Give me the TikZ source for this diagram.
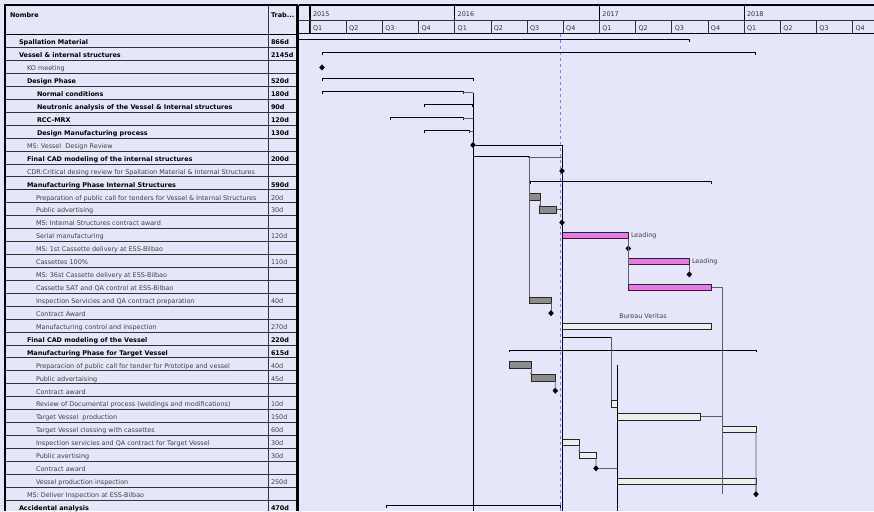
\documentclass[tikz,border=0pt]{standalone}
\usepackage{fontspec}
\setmainfont{DejaVu Sans}
\usetikzlibrary{shapes.geometric,arrows.meta}
\definecolor{bg}{RGB}{230,230,250}
\definecolor{txtgray}{RGB}{64,64,64}
\definecolor{bargray}{RGB}{140,140,140}
\definecolor{barpink}{RGB}{236,118,232}
\definecolor{barlight}{RGB}{238,238,238}
\definecolor{todayblue}{RGB}{125,125,250}
\definecolor{conngray}{RGB}{95,95,95}
\newcommand\RY[1]{(41.6+(#1-1)*12.93)}
\newcommand\TB[1]{(44.9+(#1-1)*12.93)}
\newcommand\RL[1]{(34.5+(#1)*12.93)}
\newcommand\sumbar[4]{%
  \coordinate (#1s) at (#3,{\RY{#2}-2});
  \coordinate (#1e) at (#4,{\RY{#2}-2});
  \draw[sumline] ([yshift=-2.5pt]#1s) -- (#1s) -- (#1e) -- ([yshift=-2.5pt]#1e);}
\newcommand\gbarnode[5]{%
  \node[gbar,fill=#5,minimum width={(#4-#3)*1pt}] (#1) at (#3,{\RY{#2}}) {};}
\begin{document}
\begin{tikzpicture}[x=1pt,y=-1pt,
  every node/.style={inner sep=0pt,outer sep=0pt,font=\fontsize{6.45}{7.5}\selectfont},
  tn/.style={anchor=base west,text=txtgray},
  tb/.style={anchor=base west,text=black,font=\fontsize{6.45}{7.5}\selectfont\bfseries},
  tabline/.style={draw=black!80,line width=0.6pt},
  tabframe/.style={draw=black,line width=1.1pt},
  sumline/.style={draw=black,line width=0.8pt},
  gbar/.style={draw=black!85,line width=0.55pt,minimum height=6.4pt,anchor=west},
  ms/.style={diamond,fill=black,draw=black,line width=0.3pt,minimum width=5pt,minimum height=5.5pt},
  conn/.style={draw=conngray,line width=0.7pt},
  connk/.style={draw=black,line width=0.8pt},
  tip/.style={-{Stealth[length=2pt,width=2.2pt]}},
  barlbl/.style={text=txtgray}
]
\fill[bg] (0,0) rectangle (874,511);
\useasboundingbox (0,0) rectangle (874,511);
\coordinate (bottom) at (0,511);

% ---------------- table ----------------
\foreach \k in {1,...,36} \draw[tabline] (5,{\RL{\k}}) -- (297,{\RL{\k}});
\draw[tabline] (268,5) -- (268,511);
\draw[tabframe] (5,511) -- (5,5) -- (297,5) -- (297,511);
\draw[tabframe] (5,34.5) -- (297,34.5);
\node[tb] (hname) at (10,18) {Nombre};
\node[tb] (hwork) at (271,18) {Trab...};

\node[tb] (t1) at (19,{\TB{1}}) {Spallation Material};
\node[tb] (t2) at (19,{\TB{2}}) {Vessel \& internal structures};
\node[tn] (t3) at (27,{\TB{3}}) {KO meeting};
\node[tb] (t4) at (27,{\TB{4}}) {Design Phase};
\node[tb] (t5) at (37,{\TB{5}}) {Normal conditions};
\node[tb] (t6) at (37,{\TB{6}}) {Neutronic analysis of the Vessel \& Internal structures};
\node[tb] (t7) at (37,{\TB{7}}) {RCC-MRX};
\node[tb] (t8) at (37,{\TB{8}}) {Design Manufacturing process};
\node[tn] (t9) at (27,{\TB{9}}) {MS: Vessel\ \ Design Review};
\node[tb] (t10) at (27,{\TB{10}}) {Final CAD modeling of the internal structures};
\node[tn] (t11) at (27,{\TB{11}}) {CDR:Critical desing review for Spallation Material \& Internal Structures};
\node[tb] (t12) at (27,{\TB{12}}) {Manufacturing Phase Internal Structures};
\node[tn] (t13) at (36,{\TB{13}}) {Preparation of public call for tenders for Vessel \& Internal Structures};
\node[tn] (t14) at (36,{\TB{14}}) {Public advertising};
\node[tn] (t15) at (36,{\TB{15}}) {MS: Internal Structures contract award};
\node[tn] (t16) at (36,{\TB{16}}) {Serial manufacturing};
\node[tn] (t17) at (36,{\TB{17}}) {MS: 1st Cassette delivery at ESS-Bilbao};
\node[tn] (t18) at (36,{\TB{18}}) {Cassettes 100\%};
\node[tn] (t19) at (36,{\TB{19}}) {MS: 36st Cassette delivery at ESS-Bilbao};
\node[tn] (t20) at (36,{\TB{20}}) {Cassette SAT and QA control at ESS-Bilbao};
\node[tn] (t21) at (36,{\TB{21}}) {Inspection Servicies and QA contract preparation};
\node[tn] (t22) at (36,{\TB{22}}) {Contract Award};
\node[tn] (t23) at (36,{\TB{23}}) {Manufacturing control and inspection};
\node[tb] (t24) at (27,{\TB{24}}) {Final CAD modeling of the Vessel};
\node[tb] (t25) at (27,{\TB{25}}) {Manufacturing Phase for Target Vessel};
\node[tn] (t26) at (36,{\TB{26}}) {Preparacion of public call for tender for Prototipe and vessel};
\node[tn] (t27) at (36,{\TB{27}}) {Public advertaising};
\node[tn] (t28) at (36,{\TB{28}}) {Contract award};
\node[tn] (t29) at (36,{\TB{29}}) {Review of Documental process (weldings and modifications)};
\node[tn] (t30) at (36,{\TB{30}}) {Target Vessel\ \ production};
\node[tn] (t31) at (36,{\TB{31}}) {Target Vessel clossing with cassettes};
\node[tn] (t32) at (36,{\TB{32}}) {Inspection servicies and QA contract for Target Vessel};
\node[tn] (t33) at (36,{\TB{33}}) {Public avertising};
\node[tn] (t34) at (36,{\TB{34}}) {Contract award};
\node[tn] (t35) at (36,{\TB{35}}) {Vessel production inspection};
\node[tn] (t36) at (27,{\TB{36}}) {MS: Deliver Inspection at ESS-Bilbao};
\node[tb] (t37) at (19,{\TB{37}}) {Accidental analysis};

\node[tb] (w1) at (271,{\TB{1}}) {866d};
\node[tb] (w2) at (271,{\TB{2}}) {2145d};
\node[tb] (w4) at (271,{\TB{4}}) {520d};
\node[tb] (w5) at (271,{\TB{5}}) {180d};
\node[tb] (w6) at (271,{\TB{6}}) {90d};
\node[tb] (w7) at (271,{\TB{7}}) {120d};
\node[tb] (w8) at (271,{\TB{8}}) {130d};
\node[tb] (w10) at (271,{\TB{10}}) {200d};
\node[tb] (w12) at (271,{\TB{12}}) {590d};
\node[tn] (w13) at (271,{\TB{13}}) {20d};
\node[tn] (w14) at (271,{\TB{14}}) {30d};
\node[tn] (w16) at (271,{\TB{16}}) {120d};
\node[tn] (w18) at (271,{\TB{18}}) {110d};
\node[tn] (w21) at (271,{\TB{21}}) {40d};
\node[tn] (w23) at (271,{\TB{23}}) {270d};
\node[tb] (w24) at (271,{\TB{24}}) {220d};
\node[tb] (w25) at (271,{\TB{25}}) {615d};
\node[tn] (w26) at (271,{\TB{26}}) {40d};
\node[tn] (w27) at (271,{\TB{27}}) {45d};
\node[tn] (w29) at (271,{\TB{29}}) {10d};
\node[tn] (w30) at (271,{\TB{30}}) {150d};
\node[tn] (w31) at (271,{\TB{31}}) {60d};
\node[tn] (w32) at (271,{\TB{32}}) {30d};
\node[tn] (w33) at (271,{\TB{33}}) {30d};
\node[tn] (w35) at (271,{\TB{35}}) {250d};
\node[tb] (w37) at (271,{\TB{37}}) {470d};

% ---------------- chart header ----------------
\draw[tabline] (298.5,20) -- (874,20);
\draw[tabline] (310,5) -- (310,33.5);
\foreach \yr [count=\i from 0] in {2015,2016,2017,2018} {
  \pgfmathsetmacro{\xy}{310+144.7*\i}
  \draw[tabframe] (\xy,5) -- (\xy,33.5);
  \node[tn,text=black!80] (yr\i) at ({\xy+3},16.3) {\yr};
  \foreach \q in {1,2,3,4} {
    \pgfmathsetmacro{\xq}{\xy+36.175*(\q-1)}
    \draw[tabline] (\xq,20) -- (\xq,33.5);
    \node[tn,text=black!80] (q\i\q) at ({\xq+3},30.6) {Q\q};
  }
}
\draw[tabframe] (298.5,5) -- (874,5);
\draw[tabframe] (298.5,33.5) -- (874,33.5);
\draw[tabframe] (298.5,5) -- (298.5,511);

% today line
\draw[todayblue,dash pattern=on 3pt off 3pt,line width=0.7pt] (560.3,34) -- (560.3,511);

% ---------------- summary lines ----------------
\coordinate (s1s) at (298.5,{\RY{1}-2});
\coordinate (s1e) at (689,{\RY{1}-2});
\draw[sumline] (s1s) -- (s1e) -- ([yshift=-2.5pt]s1e);
\sumbar{s2}{2}{322.3}{755}
\sumbar{s4}{4}{322}{473.3}
\sumbar{s5}{5}{322}{463}
\sumbar{s6}{6}{424}{472.7}
\sumbar{s7}{7}{390.7}{463}
\sumbar{s8}{8}{424}{469}
\sumbar{s10}{10}{473.7}{528.3}
\sumbar{s12}{12}{530}{711}
\sumbar{s24}{24}{562}{611.7}
\sumbar{s25}{25}{509.3}{756}
\sumbar{s37}{37}{386}{560}

% ---------------- bars ----------------
\gbarnode{b13}{13}{529}{540}{bargray}
\gbarnode{b14}{14}{539.7}{556.7}{bargray}
\gbarnode{b16}{16}{562}{628.3}{barpink}
\gbarnode{b18}{18}{628.3}{689.3}{barpink}
\gbarnode{b20}{20}{628.3}{711.7}{barpink}
\gbarnode{b21}{21}{529}{551}{bargray}
\gbarnode{b23}{23}{562}{711.7}{barlight}
\gbarnode{b26}{26}{509.3}{531}{bargray}
\gbarnode{b27}{27}{531}{555.3}{bargray}
\gbarnode{b29}{29}{611.7}{617.3}{barlight}
\gbarnode{b30}{30}{617.3}{700.7}{barlight}
\gbarnode{b31}{31}{722.7}{756}{barlight}
\gbarnode{b32}{32}{562.3}{579.3}{barlight}
\gbarnode{b33}{33}{579.3}{596}{barlight}
\gbarnode{b35}{35}{617.3}{756}{barlight}

% ---------------- milestones ----------------
\node[ms] (m3) at (322,{\RY{3}}) {};
\node[ms] (m9) at (473,{\RY{9}}) {};
\node[ms] (m11) at (562,{\RY{11}}) {};
\node[ms] (m15) at (562,{\RY{15}}) {};
\node[ms] (m17) at (628.3,{\RY{17}}) {};
\node[ms] (m19) at (689.3,{\RY{19}}) {};
\node[ms] (m22) at (551,{\RY{22}}) {};
\node[ms] (m28) at (555.3,{\RY{28}}) {};
\node[ms] (m34) at (596,{\RY{34}}) {};
\node[ms] (m36) at (756,{\RY{36}}) {};

% ---------------- labels ----------------
\node[barlbl,anchor=west] (l16) at ([xshift=2.7pt]b16.east) {Leading};
\node[barlbl,anchor=west] (l18) at ([xshift=2.7pt]b18.east) {Leading};
\node[barlbl] (l23) at (643,{\RY{23}-10}) {Bureau Veritas};

% ---------------- connectors ----------------
\draw[conn] ([yshift=-1.3pt]s5e) -- ([yshift=-1.3pt]s5e -| m9);
\draw[conn] ([yshift=-1.3pt]s7e) -- ([yshift=-1.3pt]s7e -| m9);
\draw[conn] ([yshift=-1.3pt]s8e) -- ([yshift=-1.3pt]s8e -| m9);
\draw[connk] ([yshift=-1.3pt]s5e -| m9) -- (m9.north);
\draw[connk] (m9.south) -- (m9.south |- bottom);
\draw[connk] (m9.east) -- (m9.east -| m11) -- (m11.north);
\draw[connk] (m11.south) -- (m11.south |- bottom);
\draw[conn] ([yshift=-1.5pt]s10e) -- ([yshift=-1.5pt]s10e -| m11);
\draw[conn] ([xshift=0.7pt]s10e) -- ([xshift=0.7pt]s10e |- b21.north);
\draw[conn,tip] (b13.south east) -- (b13.south east |- b14.north);
\draw[conn] (b14.east) -- (b14.east -| m15);
\draw[conn] (b16.south east) -- (b16.south east |- b20.north);
\draw[conn] (b18.south east) -- (m19.north);
\draw[conn] (b20.east) -- (b20.east -| b31.west) -- (b31.west |- m36);
\draw[conn] (b21.south east) -- (m22.north);
\draw[conn] (s24e) -- (s24e |- b29.north);
\coordinate (v617) at (617.3,{\RY{26}});
\draw[connk] (v617) -- (v617 |- bottom);
\draw[conn,tip] (b26.south east) -- (b26.south east |- b27.north);
\draw[conn] (b27.south east) -- (m28.north);
\draw[conn] (b30.east) -- (b30.east -| b31.west);
\draw[conn] (b31.south east) -- (m36.north);
\draw[conn,tip] (b32.south east) -- (b32.south east |- b33.north);
\draw[conn] (b33.south east) -- (m34.north);
\draw[conn] (m34.east) -- (m34.east -| b35.west);
\draw[conn] (b35.south east) -- (m36.north);
\end{tikzpicture}
\end{document}
